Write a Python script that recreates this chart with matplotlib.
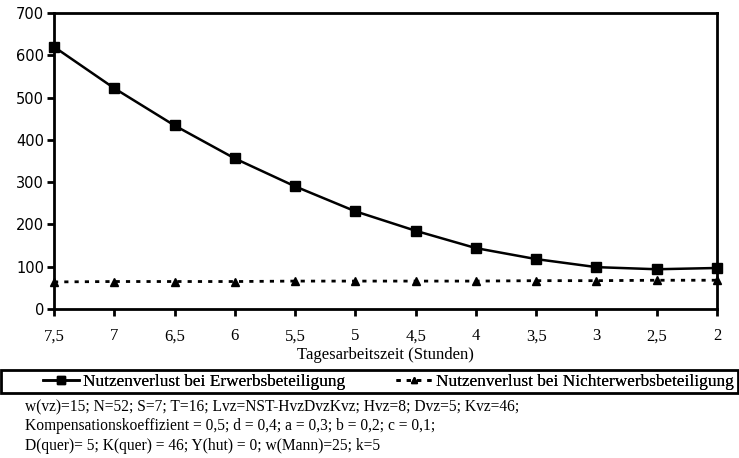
import matplotlib.pyplot as plt
from matplotlib.lines import Line2D
from matplotlib.patches import Rectangle

# data
stunden = [7.5, 7, 6.5, 6, 5.5, 5, 4.5, 4, 3.5, 3, 2.5, 2]
stunden_labels = ['7,5', '7', '6,5', '6', '5,5', '5', '4,5', '4', '3,5', '3', '2,5', '2']
erwerb = [620, 522, 434, 356, 290, 231, 185, 144, 118, 99, 94, 97]
nichterwerb = [64, 65, 65, 65, 66, 66, 66, 66, 67, 67, 68, 68]
y_ticks = [0, 100, 200, 300, 400, 500, 600, 700]

notes = ["w(vz)=15; N=52; S=7; T=16; Lvz=NST-HvzDvzKvz; Hvz=8; Dvz=5; Kvz=46;",
         "Kompensationskoeffizient = 0,5; d = 0,4; a = 0,3; b = 0,2; c = 0,1;",
         "D(quer)= 5; K(quer) = 46; Y(hut) = 0; w(Mann)=25; k=5"]

serif = 'Liberation Serif'
W, H = 739, 458

fig = plt.figure(figsize=(7.39, 4.58), dpi=100)
ax = fig.add_axes([54 / W, 1 - 309 / H, 663 / W, 296 / H])

l1, = ax.plot(stunden, erwerb, color='black', lw=1.8, marker='s', markersize=7,
              label='Nutzenverlust bei Erwerbsbeteiligung', clip_on=False, zorder=5)
l2, = ax.plot(stunden, nichterwerb, color='black', lw=2, ls=(0, (1.5, 2.2)), marker='^',
              markersize=6, label='Nutzenverlust bei Nichterwerbsbeteiligung',
              clip_on=False, zorder=5)

ax.set_xlim(7.5, 2)
ax.set_ylim(0, 700)
ax.set_xticks(stunden)
ax.set_xticklabels(stunden_labels, fontfamily=serif, fontsize=12)
ax.set_yticks(y_ticks)
ax.set_yticklabels([str(v) for v in y_ticks], fontfamily='DejaVu Sans', fontsize=10.5)
ax.tick_params(direction='out', width=2, length=5, color='black')
ax.tick_params(axis='x', pad=9)
ax.tick_params(axis='y', pad=2)
for s in ax.spines.values():
    s.set_linewidth(2)
ax.set_xlabel('Tagesarbeitszeit (Stunden)', fontfamily=serif, fontsize=12, labelpad=2)

# legend box across the figure
fig.patches.append(Rectangle((1 / W, 1 - 393 / H), 737 / W, 23 / H, transform=fig.transFigure,
                             fill=False, edgecolor='black', lw=2))
h1 = Line2D([], [], color='black', lw=1.8, marker='s', markersize=6)
h2 = Line2D([], [], color='black', lw=2, ls=(0, (1.5, 2.2)), marker='^', markersize=5)
leg_y = 1 - 381.5 / H
for h, lab, x0 in [(h1, l1.get_label(), 43), (h2, l2.get_label(), 396)]:
    lg = fig.legend([h], [lab], loc='center left', bbox_to_anchor=(x0 / W, leg_y),
                    frameon=False, prop={'family': serif, 'size': 12.4},
                    handlelength=2.1, handletextpad=0.2, borderpad=0, borderaxespad=0)
    fig.add_artist(lg)

for i, t in enumerate(notes):
    fig.text(25 / W, 1 - (407 + i * 19.5) / H, t, fontfamily=serif, fontsize=11.2,
             va='center', ha='left')

fig.savefig('out.png', dpi=100)
